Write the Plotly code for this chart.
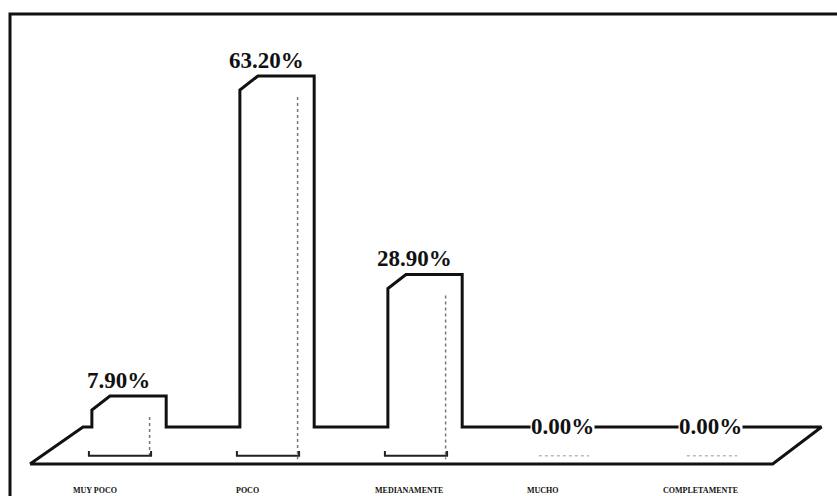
import plotly.graph_objects as go

# Survey answers and their shares (%)
CATEGORIES = ["MUY POCO", "POCO", "MEDIANAMENTE", "MUCHO", "COMPLETAMENTE"]
VALUES = [7.9, 63.2, 28.9, 0.0, 0.0]
VALUE_LABELS = ["7.90%", "63.20%", "28.90%", "0.00%", "0.00%"]

# Pseudo-3D geometry (x in category units, y in percent units)
HALF_W = 0.19          # half width of the front face of a bar
DX, DY = 0.122, 2.42   # depth offset of the back face
FLOOR_BACK = 4.96      # back edge of the floor
FLOOR_FRONT = -1.43    # front edge of the floor
FLOOR_LEFT = (-0.608, -0.25)   # front / back x of the floor's left end
FLOOR_RIGHT = (4.41, 4.74)     # front / back x of the floor's right end
LABEL_SHIFT = [-0.17, -0.14, -0.05, -0.14, -0.08]
SERIF = "Liberation Serif"

fig = go.Figure()

# Outline of floor and bars as one closed contour
xs = [FLOOR_LEFT[0], FLOOR_LEFT[1]]
ys = [FLOOR_FRONT, FLOOR_BACK]
for i, v in enumerate(VALUES):
    if v <= 0:
        continue
    xl, xr = i - HALF_W, i + HALF_W
    xs += [xl, xl, xl + DX, xr + DX, xr + DX]
    ys += [FLOOR_BACK, v, v + DY, v + DY, FLOOR_BACK]
xs += [FLOOR_RIGHT[1], FLOOR_RIGHT[0], FLOOR_LEFT[0]]
ys += [FLOOR_BACK, FLOOR_FRONT, FLOOR_FRONT]
fig.add_trace(go.Scatter(x=xs, y=ys, mode="lines",
                         line=dict(color="#111111", width=3),
                         hoverinfo="skip"))

# Front-right edges (dotted) and front-bottom edges of each bar
for i, v in enumerate(VALUES):
    xl, xr = i - HALF_W, i + HALF_W
    if v > 0:
        fig.add_trace(go.Scatter(x=[xr + 0.01, xr + 0.01], y=[v - 1.2, -0.6],
                                 mode="lines",
                                 line=dict(color="#777777", width=1.5, dash="dot"),
                                 hoverinfo="skip"))
        fig.add_trace(go.Scatter(x=[xl - 0.02, xl - 0.02, xr + 0.02, xr + 0.02],
                                 y=[0.8, 0, 0, 0.8], mode="lines",
                                 line=dict(color="#222222", width=2),
                                 hoverinfo="skip"))
    else:
        fig.add_trace(go.Scatter(x=[xl + 0.02, xr - 0.02], y=[0, 0], mode="lines",
                                 line=dict(color="#bbbbbb", width=1.5, dash="dot"),
                                 hoverinfo="skip"))

# Value labels above the bars
for i, (v, lab) in enumerate(zip(VALUES, VALUE_LABELS)):
    fig.add_annotation(x=i - 0.01, y=v + DY, text=lab, showarrow=False,
                       xanchor="center", yanchor="bottom", yshift=2,
                       bgcolor="white", borderpad=0,
                       font=dict(family=SERIF, size=23, color="#111111",
                                 weight="bold"))

# Category labels under the floor
for i, (cat, sh) in enumerate(zip(CATEGORIES, LABEL_SHIFT)):
    fig.add_annotation(x=i + sh, y=-5.95, text=cat, showarrow=False,
                       xanchor="center", yanchor="middle",
                       font=dict(family=SERIF, size=8, color="#111111",
                                 weight="bold"))

# Chart frame
fig.add_shape(type="rect", xref="paper", yref="paper",
              x0=10 / 837, x1=1.02, y0=-0.02, y1=1 - 14 / 496,
              line=dict(color="#111111", width=3), fillcolor="rgba(0,0,0,0)")

fig.update_layout(
    width=837, height=496,
    margin=dict(l=0, r=0, t=0, b=0),
    paper_bgcolor="white", plot_bgcolor="white",
    showlegend=False,
    xaxis=dict(range=[-120 / 148, 717 / 148], visible=False, fixedrange=True),
    yaxis=dict(range=[-40.3 / 5.787, 455.7 / 5.787], visible=False, fixedrange=True),
)

fig.write_html("out.html")
